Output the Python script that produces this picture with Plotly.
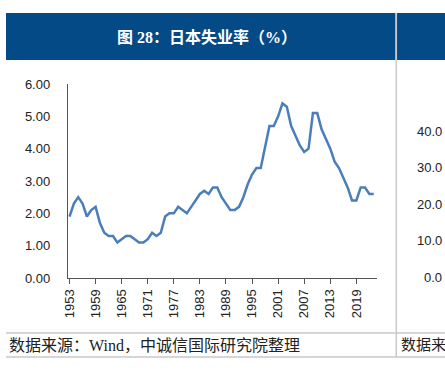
import plotly.graph_objects as go

# Data: Japan unemployment rate (%), 1953-2023
years = list(range(1953, 2024))
unemployment = [
    1.9, 2.3, 2.5, 2.3, 1.9, 2.1, 2.2, 1.7, 1.4, 1.3,
    1.3, 1.1, 1.2, 1.3, 1.3, 1.2, 1.1, 1.1, 1.2, 1.4,
    1.3, 1.4, 1.9, 2.0, 2.0, 2.2, 2.1, 2.0, 2.2, 2.4,
    2.6, 2.7, 2.6, 2.8, 2.8, 2.5, 2.3, 2.1, 2.1, 2.2,
    2.5, 2.9, 3.2, 3.4, 3.4, 4.1, 4.7, 4.7, 5.0, 5.4,
    5.3, 4.7, 4.4, 4.1, 3.9, 4.0, 5.1, 5.1, 4.6, 4.3,
    4.0, 3.6, 3.4, 3.1, 2.8, 2.4, 2.4, 2.8, 2.8, 2.6,
    2.6,
]
tick_years = list(range(1953, 2020, 6))
y_ticks = [0, 1, 2, 3, 4, 5, 6]
y_tick_text = [f"{v:.2f}" for v in y_ticks]
right_panel_ticks = ["40.0", "30.0", "20.0", "10.0", "0.0"]

title_text = "<b>图 28：日本失业率（%）</b>"
source_text = "数据来源：Wind，中诚信国际研究院整理"

W, H = 445, 370
ML, MR, MT, MB = 68, 68, 84, 92
PW, PH = W - ML - MR, H - MT - MB


def px(x):
    return (x - ML) / PW


def py(y):
    return (H - MB - y) / PH


BLUE = "#034A87"
GREY = "#C9C9C9"

fig = go.Figure()
fig.add_trace(go.Scatter(
    x=years, y=unemployment, mode="lines",
    line=dict(color="#4A7EBB", width=2.5),
    hoverinfo="skip", showlegend=False,
))

shapes = [
    # title bars
    dict(type="rect", xref="paper", yref="paper", x0=px(6), x1=px(395.5), y0=py(60), y1=py(13),
         fillcolor=BLUE, line=dict(width=0), layer="below"),
    dict(type="rect", xref="paper", yref="paper", x0=px(397), x1=px(446), y0=py(60), y1=py(13),
         fillcolor=BLUE, line=dict(width=0), layer="below"),
    # vertical separator
    dict(type="line", xref="paper", yref="paper", x0=px(396.3), x1=px(396.3), y0=py(13), y1=py(357),
         line=dict(color=GREY, width=1.5)),
    # source row lines
    dict(type="line", xref="paper", yref="paper", x0=px(6), x1=px(446), y0=py(333), y1=py(333),
         line=dict(color=GREY, width=1.5)),
    dict(type="line", xref="paper", yref="paper", x0=px(6), x1=px(446), y0=py(357), y1=py(357),
         line=dict(color=GREY, width=1.5)),
]

annotations = [
    dict(text=title_text, xref="paper", yref="paper", x=px(207), y=py(37),
         xanchor="center", yanchor="middle", showarrow=False,
         font=dict(family="Liberation Serif, Noto Sans CJK SC", size=16, color="white")),
    dict(text=source_text, xref="paper", yref="paper", x=px(7), y=py(345),
         xanchor="left", yanchor="middle", showarrow=False,
         font=dict(family="Liberation Serif, Noto Sans CJK SC", size=16, color="#222222")),
    dict(text="数据来", xref="paper", yref="paper", x=px(399), y=py(345),
         xanchor="left", yanchor="middle", showarrow=False,
         font=dict(family="Liberation Serif, Noto Sans CJK SC", size=15, color="#222222")),
]
for i, t in enumerate(right_panel_ticks):
    annotations.append(dict(
        text=t, xref="paper", yref="paper", x=px(444), y=py(131 + i * 36.6),
        xanchor="right", yanchor="middle", showarrow=False,
        font=dict(family="Liberation Sans", size=13, color="#222222")))

fig.update_layout(
    width=W, height=H,
    margin=dict(l=ML, r=MR, t=MT, b=MB, pad=0),
    paper_bgcolor="white", plot_bgcolor="white",
    shapes=shapes, annotations=annotations,
    xaxis=dict(
        range=[1952.65, 2023.75], tickmode="array", tickvals=tick_years,
        ticktext=[str(y) for y in tick_years], tickangle=-90,
        ticks="outside", ticklen=5, tickcolor="#555555", tickwidth=1,
        showline=True, linecolor="#555555", linewidth=1.2,
        showgrid=False, zeroline=False,
        tickfont=dict(family="Liberation Sans", size=13, color="#222222"),
    ),
    yaxis=dict(
        range=[0, 6], tickmode="array", tickvals=y_ticks, ticktext=y_tick_text,
        ticks="", showline=True, linecolor="#555555", linewidth=1.2,
        showgrid=False, zeroline=False, ticklabelstandoff=14,
        tickfont=dict(family="Liberation Sans", size=13, color="#222222"),
    ),
)

fig.write_html(
    "out.html",
    config={"displayModeBar": False, "staticPlot": True},
    post_script="document.body.style.margin='0';document.body.style.overflow='hidden';",
)
